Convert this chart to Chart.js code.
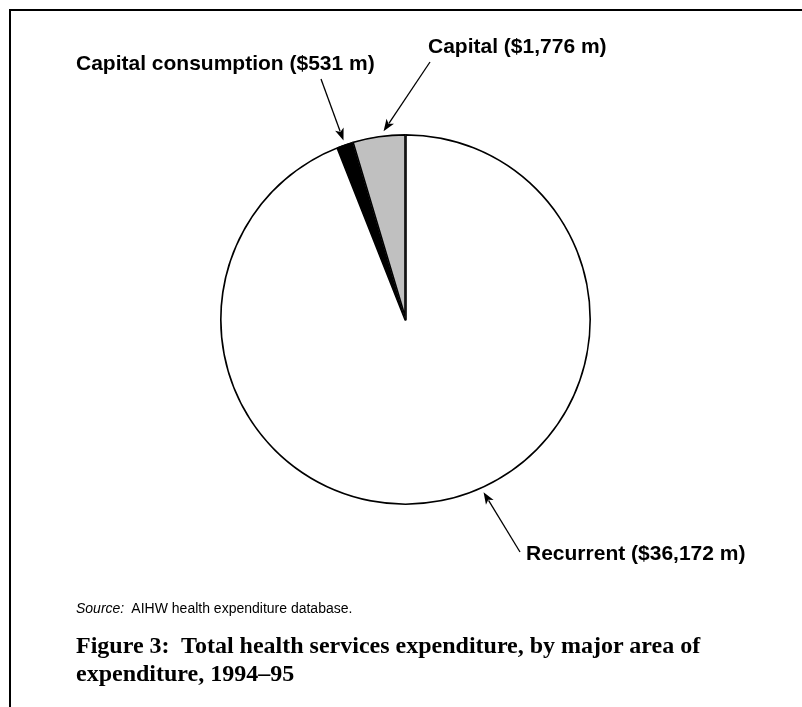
<!DOCTYPE html>
<html>
<head>
<meta charset="utf-8">
<script src="https://cdn.jsdelivr.net/npm/chart.js@4"></script>
<style>
    html, body { margin: 0; padding: 0; background: #fff; }
    #wrap { position: relative; width: 802px; height: 707px; overflow: hidden; }
    #frame { position: absolute; left: 9px; top: 9px; width: 800px; height: 710px;
             border-top: 2px solid #000; border-left: 2px solid #000; }
    #chart { position: absolute; left: 0; top: 0; }
    .source { position: absolute; left: 76px; top: 600px; font: 14px "Liberation Sans", Arial, sans-serif; color: #000; }
    .source i { margin-right: 4px; }
    .caption { position: absolute; left: 76px; top: 631px; width: 700px;
               font: bold 24px/28px "Liberation Serif", "Times New Roman", serif; color: #000; }
</style>
</head>
<body>
<div id="wrap">
    <div id="frame"></div>
    <canvas id="chart" width="802" height="707"></canvas>
    <div class="source"><i>Source:</i> AIHW health expenditure database.</div>
    <div class="caption">Figure 3:&nbsp; Total health services expenditure, by major area of expenditure, 1994–95</div>
</div>
<script>
// Expenditure by area, $ million
const areas = ['Recurrent', 'Capital consumption', 'Capital'];
const amounts = [36172, 531, 1776];
const labelText = ['Recurrent ($36,172 m)', 'Capital consumption ($531 m)', 'Capital ($1,776 m)'];
const fills = ['#ffffff', '#000000', '#c0c0c0'];

// where each callout label sits and where along its slice the arrow points
const callouts = [
    { x: 526, y: 554, tailX: 520, tailY: 552, along: 0.46 },
    { x: 76, y: 64, tailX: 321, tailY: 79, along: 0.5 },
    { x: 428, y: 47, tailX: 430, tailY: 62, along: 0.6 }
];

function drawArrow(ctx, x1, y1, x2, y2) {
    const ang = Math.atan2(y2 - y1, x2 - x1);
    const len = 12, half = 4.5;
    const cos = Math.cos(ang), sin = Math.sin(ang);
    ctx.beginPath();
    ctx.moveTo(x1, y1);
    ctx.lineTo(x2 - cos * len * 0.8, y2 - sin * len * 0.8);
    ctx.stroke();
    ctx.beginPath();
    ctx.moveTo(x2, y2);
    ctx.lineTo(x2 - cos * len - sin * half, y2 - sin * len + cos * half);
    ctx.lineTo(x2 - cos * len * 0.75, y2 - sin * len * 0.75);
    ctx.lineTo(x2 - cos * len + sin * half, y2 - sin * len - cos * half);
    ctx.closePath();
    ctx.fill();
}

// Callout labels with arrows aimed at each slice's rim
const calloutPlugin = {
    id: 'callouts',
    afterDatasetsDraw(chart) {
        const ctx = chart.ctx;
        const arcs = chart.getDatasetMeta(0).data;
        ctx.save();
        ctx.fillStyle = '#000';
        ctx.strokeStyle = '#000';
        ctx.lineWidth = 1.3;
        ctx.font = 'bold 21px "Liberation Sans", Arial, sans-serif';
        ctx.textBaseline = 'middle';
        ctx.textAlign = 'left';
        arcs.forEach((arc, i) => {
            const c = callouts[i];
            const a = arc.startAngle + (arc.endAngle - arc.startAngle) * c.along;
            const r = arc.outerRadius + 4;
            drawArrow(ctx, c.tailX, c.tailY, arc.x + Math.cos(a) * r, arc.y + Math.sin(a) * r);
            ctx.fillText(labelText[i], c.x, c.y);
        });
        ctx.restore();
    }
};

new Chart(document.getElementById('chart'), {
    type: 'pie',
    data: {
        labels: areas,
        datasets: [{
            data: amounts,
            backgroundColor: fills,
            borderColor: '#000',
            borderWidth: 1.3,
            borderAlign: 'inner'
        }]
    },
    options: {
        responsive: false,
        animation: false,
        events: [],
        layout: { padding: { left: 220, top: 134, right: 211, bottom: 202 } },
        plugins: {
            legend: { display: false },
            tooltip: { enabled: false },
            title: { display: false }
        }
    },
    plugins: [calloutPlugin]
});
</script>
</body>
</html>
